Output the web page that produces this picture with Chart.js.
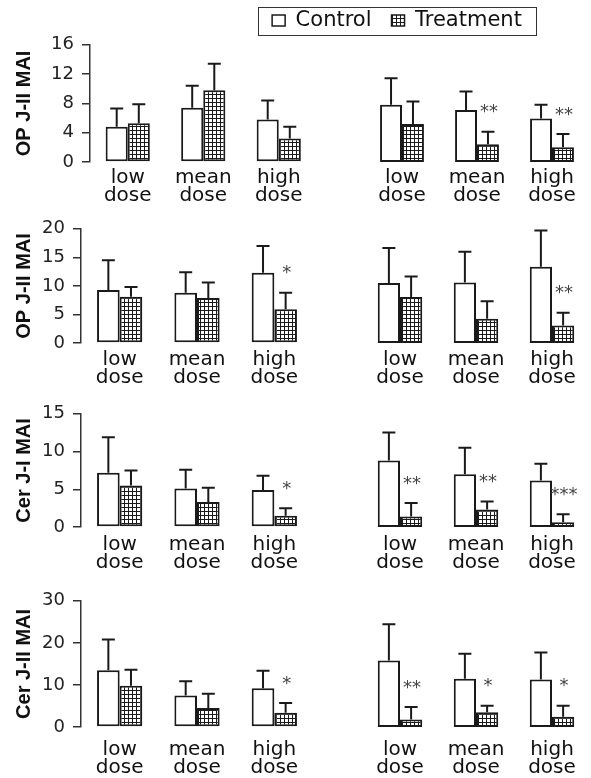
<!DOCTYPE html>
<html>
<head>
<meta charset="utf-8">
<script src="https://cdn.jsdelivr.net/npm/chart.js@4.4.0/dist/chart.umd.min.js"></script>
<style>
  html, body { margin: 0; padding: 0; background: #fff; }
  body { width: 591px; height: 778px; position: relative; overflow: hidden; }
  canvas { position: absolute; }
</style>
</head>
<body>
<canvas id="p1l"></canvas><canvas id="p1r"></canvas>
<canvas id="p2l"></canvas><canvas id="p2r"></canvas>
<canvas id="p3l"></canvas><canvas id="p3r"></canvas>
<canvas id="p4l"></canvas><canvas id="p4r"></canvas>
<canvas id="legend"></canvas>
<script>
// categories and series
const doses = [['low', 'dose'], ['mean', 'dose'], ['high', 'dose']];
const seriesNames = ['Control', 'Treatment'];
const yTitles = ['OP J-II MAI', 'OP J-II MAI', 'Cer J-I MAI', 'Cer J-II MAI'];
const yMax = [16, 20, 15, 30];
const yStep = [4, 5, 5, 10];

// each row: left group (3 doses) then right group (3 doses)
const row1Control = [4.8, 7.4, 5.8, 7.4, 6.7, 5.6];
const row1ControlSD = [2.5, 3.0, 2.6, 3.4, 2.4, 1.8];
const row1Treatment = [5.3, 9.8, 3.2, 4.9, 2.3, 1.9];
const row1TreatmentSD = [2.6, 3.6, 1.6, 2.9, 1.6, 1.7];
const row1Stars = ['', '', '', '', '**', '**'];

const row2Control = [9.3, 8.8, 12.3, 9.9, 10.0, 12.6];
const row2ControlSD = [5.2, 3.6, 4.7, 5.8, 5.1, 6.0];
const row2Treatment = [8.1, 7.9, 5.9, 7.6, 4.0, 2.9];
const row2TreatmentSD = [1.7, 2.7, 2.9, 3.4, 2.9, 2.1];
const row2Stars = ['', '', '*', '', '', '**'];

const row3Control = [7.2, 5.1, 4.9, 8.3, 6.6, 5.8];
const row3ControlSD = [4.7, 2.5, 1.9, 3.5, 3.3, 2.1];
const row3Treatment = [5.5, 3.3, 1.5, 1.3, 2.2, 0.6];
const row3TreatmentSD = [2.0, 1.9, 1.0, 1.7, 1.0, 1.0];
const row3Stars = ['', '', '*', '**', '**', '***'];

const row4Control = [13.5, 7.5, 9.2, 15.0, 10.9, 10.7];
const row4ControlSD = [7.3, 3.4, 4.2, 8.2, 5.6, 6.1];
const row4Treatment = [9.8, 4.5, 3.4, 1.7, 3.3, 2.3];
const row4TreatmentSD = [3.8, 3.4, 2.3, 2.8, 1.5, 2.5];
const row4Stars = ['', '', '*', '**', '*', '*'];

const rows = [
  { control: row1Control, controlSD: row1ControlSD, treatment: row1Treatment, treatmentSD: row1TreatmentSD, stars: row1Stars },
  { control: row2Control, controlSD: row2ControlSD, treatment: row2Treatment, treatmentSD: row2TreatmentSD, stars: row2Stars },
  { control: row3Control, controlSD: row3ControlSD, treatment: row3Treatment, treatmentSD: row3TreatmentSD, stars: row3Stars },
  { control: row4Control, controlSD: row4ControlSD, treatment: row4Treatment, treatmentSD: row4TreatmentSD, stars: row4Stars }
];

// page layout of the panels (pixels)
const layout = [
  { top: 26, height: 186, axisX: 90, leftPadR: 3.5, rightPadL: 34.5, rightPadR: 1.5, tickPad: 7 },
  { top: 210, height: 183, axisX: 81, leftPadR: 7, rightPadL: 32, rightPadR: 1, tickPad: 8 },
  { top: 395, height: 182, axisX: 81, leftPadR: 7, rightPadL: 32, rightPadR: 1, tickPad: 9 },
  { top: 582, height: 195, axisX: 81, leftPadR: 7, rightPadL: 32, rightPadR: 1, tickPad: 14 }
];

const ink = '#1a1a1a';

// grid hatch used for the Treatment bars
function gridPattern() {
  const c = document.createElement('canvas');
  c.width = 4; c.height = 4;
  const g = c.getContext('2d');
  g.fillStyle = '#fff';
  g.fillRect(0, 0, 4, 4);
  g.fillStyle = ink;
  g.fillRect(0, 0, 4, 1);
  g.fillRect(0, 0, 1, 4);
  return g.createPattern(c, 'repeat');
}
const hatch = gridPattern();

// error bars (upper half only) and significance stars
const errorBars = {
  id: 'errorBars',
  afterDatasetsDraw(chart, args, opts) {
    const ctx = chart.ctx;
    const yScale = chart.scales.y;
    ctx.save();
    ctx.strokeStyle = ink;
    ctx.lineWidth = 2;
    chart.data.datasets.forEach((ds, i) => {
      chart.getDatasetMeta(i).data.forEach((bar, j) => {
        const top = yScale.getPixelForValue(ds.data[j] + opts.sd[i][j]);
        ctx.beginPath();
        ctx.moveTo(bar.x, bar.y);
        ctx.lineTo(bar.x, top);
        ctx.moveTo(bar.x - 6.5, top);
        ctx.lineTo(bar.x + 6.5, top);
        ctx.stroke();
        if (i === 1 && opts.stars[j]) {
          ctx.fillStyle = '#444';
          ctx.font = '18px "DejaVu Sans"';
          ctx.textAlign = 'center';
          ctx.textBaseline = 'middle';
          ctx.fillText(opts.stars[j], bar.x + 1, top - 19);
        }
      });
    });
    ctx.restore();
  }
};

function makePanel(id, r, side) {
  const L = layout[r];
  const d = rows[r];
  const from = side === 'left' ? 0 : 3;
  const pick = arr => arr.slice(from, from + 3);
  const canvas = document.getElementById(id);
  const left = side === 'left' ? 0 : 330;
  const width = side === 'left' ? 320 : 261;
  canvas.width = width;
  canvas.height = L.height;
  canvas.style.left = left + 'px';
  canvas.style.top = L.top + 'px';

  const yAxis = side === 'left' ? {
    min: 0, max: yMax[r],
    ticks: { stepSize: yStep[r], font: { family: 'DejaVu Sans', size: 18 }, color: '#222', padding: 8 },
    grid: { display: true, drawOnChartArea: false, drawTicks: true, tickLength: 8, color: '#333', lineWidth: 1.5 },
    border: { display: true, color: '#333', width: 1.5 },
    title: {
      display: true, text: yTitles[r], color: '#111',
      font: { family: 'Liberation Sans', size: 20, weight: 'bold' },
      padding: { top: 12, bottom: 0 }
    },
    afterFit(scale) { scale.width = L.axisX; }
  } : { display: false, min: 0, max: yMax[r] };

  new Chart(canvas, {
    type: 'bar',
    data: {
      labels: doses,
      datasets: [
        { label: seriesNames[0], data: pick(d.control), backgroundColor: '#fff' },
        { label: seriesNames[1], data: pick(d.treatment), backgroundColor: hatch }
      ]
    },
    options: {
      responsive: false,
      animation: false,
      devicePixelRatio: 1,
      layout: {
        padding: {
          top: 12, bottom: 0,
          left: side === 'left' ? 0 : L.rightPadL,
          right: side === 'left' ? L.leftPadR : L.rightPadR
        }
      },
      datasets: {
        bar: {
          borderColor: ink, borderWidth: 2, borderSkipped: false,
          categoryPercentage: 0.585, barPercentage: 1
        }
      },
      scales: {
        x: {
          ticks: {
            font: { family: 'DejaVu Sans', size: 20, lineHeight: 0.9 },
            color: '#111', padding: L.tickPad, maxRotation: 0, autoSkip: false
          },
          grid: { display: false, drawTicks: false },
          border: { display: false },
          afterFit(scale) { scale.height = 50; }
        },
        y: yAxis
      },
      plugins: {
        legend: { display: false },
        tooltip: { enabled: false },
        errorBars: { sd: [pick(d.controlSD), pick(d.treatmentSD)], stars: pick(d.stars) }
      }
    },
    plugins: [errorBars]
  });
}

for (let r = 0; r < 4; r++) {
  makePanel('p' + (r + 1) + 'l', r, 'left');
  makePanel('p' + (r + 1) + 'r', r, 'right');
}

// legend with a frame around its items
const legendFrame = {
  id: 'legendFrame',
  afterDraw(chart) {
    const boxes = chart.legend.legendHitBoxes;
    if (!boxes || !boxes.length) return;
    const a = boxes[0];
    const b = boxes[boxes.length - 1];
    const cy = a.top + a.height / 2;
    const x0 = Math.round(a.left - 14) + 0.5;
    const x1 = Math.round(b.left + b.width + 14) + 0.5;
    const ctx = chart.ctx;
    ctx.save();
    ctx.strokeStyle = '#333';
    ctx.lineWidth = 1;
    ctx.strokeRect(x0, Math.round(cy - 14) + 0.5, x1 - x0, 28);
    ctx.restore();
  }
};

const lc = document.getElementById('legend');
lc.width = 330;
lc.height = 120;
lc.style.left = '232px';
lc.style.top = '-10px';
new Chart(lc, {
  type: 'bar',
  data: {
    labels: [],
    datasets: [
      { label: seriesNames[0], data: [], backgroundColor: '#fff', borderColor: ink, borderWidth: 1.5 },
      { label: seriesNames[1], data: [], backgroundColor: hatch, borderColor: ink, borderWidth: 1.5 }
    ]
  },
  options: {
    responsive: false,
    animation: false,
    devicePixelRatio: 1,
    scales: { x: { display: false }, y: { display: false } },
    plugins: {
      legend: {
        display: true,
        labels: { font: { family: 'DejaVu Sans', size: 21 }, color: '#111', boxWidth: 13, boxHeight: 11, padding: 20 }
      },
      tooltip: { enabled: false }
    }
  },
  plugins: [legendFrame]
});
</script>
</body>
</html>
